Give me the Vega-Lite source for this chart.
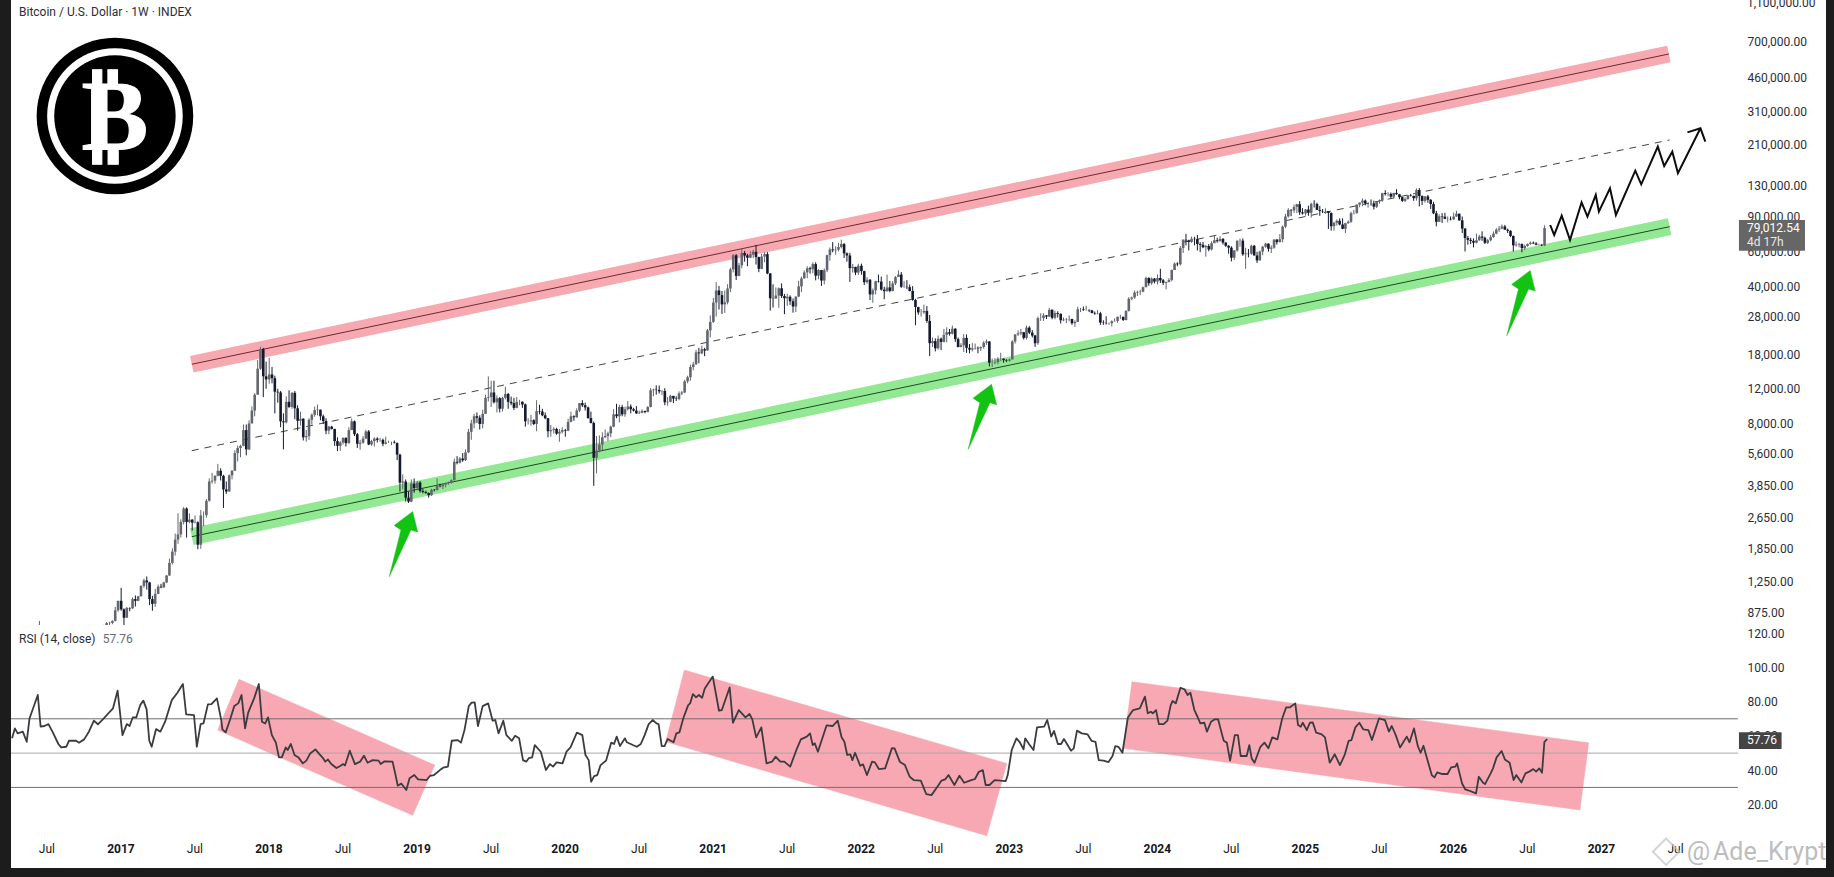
{
"$schema":"https://vega.github.io/schema/vega-lite/v6.json",
"background":"#1c1c1c",
"padding":{"left":10,"top":0,"right":9,"bottom":9},
"spacing":0,
"config":{"view":{"stroke":null,"fill":"#ffffff"},"text":{"font":"Roboto"}},
"datasets":{
"candles":[
{"t":2016.453,"o":680,"h":790,"l":650,"c":740},
{"t":2016.888,"o":735,"h":755,"l":725,"c":745},{"t":2016.907,"o":745,"h":780,"l":735,"c":770},{"t":2016.927,"o":770,"h":782,"l":752,"c":772},{"t":2016.946,"o":772,"h":795,"l":760,"c":790},{"t":2016.965,"o":790,"h":930,"l":785,"c":895},{"t":2016.984,"o":895,"h":1000,"l":880,"c":1000},
{"t":2017.005,"o":1000,"h":1165,"l":890,"c":905},{"t":2017.024,"o":905,"h":915,"l":750,"c":820},{"t":2017.043,"o":820,"h":930,"l":820,"c":920},{"t":2017.063,"o":920,"h":925,"l":885,"c":915},{"t":2017.082,"o":915,"h":1040,"l":910,"c":1020},{"t":2017.101,"o":1020,"h":1065,"l":935,"c":1000},{"t":2017.12,"o":1000,"h":1060,"l":995,"c":1055},{"t":2017.139,"o":1055,"h":1200,"l":1050,"c":1190},{"t":2017.159,"o":1190,"h":1295,"l":1165,"c":1270},{"t":2017.178,"o":1270,"h":1330,"l":1140,"c":1240},{"t":2017.197,"o":1240,"h":1250,"l":950,"c":1020},{"t":2017.216,"o":1020,"h":1060,"l":890,"c":965},{"t":2017.235,"o":965,"h":1150,"l":930,"c":1085},{"t":2017.255,"o":1085,"h":1210,"l":1080,"c":1180},{"t":2017.274,"o":1180,"h":1220,"l":1160,"c":1170},{"t":2017.293,"o":1170,"h":1250,"l":1165,"c":1240},{"t":2017.312,"o":1240,"h":1350,"l":1230,"c":1345},{"t":2017.331,"o":1345,"h":1640,"l":1340,"c":1560},{"t":2017.351,"o":1560,"h":1850,"l":1530,"c":1780},{"t":2017.37,"o":1780,"h":2200,"l":1700,"c":2050},{"t":2017.389,"o":2050,"h":2790,"l":1950,"c":2180},{"t":2017.408,"o":2180,"h":2600,"l":2100,"c":2520},{"t":2017.427,"o":2520,"h":3000,"l":2450,"c":2950},{"t":2017.447,"o":2950,"h":2990,"l":2100,"c":2520},{"t":2017.466,"o":2520,"h":2790,"l":2480,"c":2590},{"t":2017.485,"o":2590,"h":2600,"l":2280,"c":2500},{"t":2017.504,"o":2500,"h":2720,"l":2480,"c":2510},{"t":2017.523,"o":2510,"h":2540,"l":1830,"c":1930},{"t":2017.543,"o":1930,"h":2900,"l":1840,"c":2720},{"t":2017.562,"o":2720,"h":2850,"l":2400,"c":2720},{"t":2017.581,"o":2730,"h":3300,"l":2650,"c":3230},{"t":2017.6,"o":3230,"h":4200,"l":3200,"c":4050},{"t":2017.619,"o":4050,"h":4480,"l":3950,"c":4090},{"t":2017.639,"o":4090,"h":4350,"l":3950,"c":4330},{"t":2017.658,"o":4330,"h":4980,"l":4300,"c":4590},{"t":2017.677,"o":4590,"h":4730,"l":4100,"c":4330},{"t":2017.696,"o":4330,"h":4380,"l":2970,"c":3690},{"t":2017.715,"o":3690,"h":4050,"l":3500,"c":3600},{"t":2017.735,"o":3600,"h":4400,"l":3600,"c":4350},{"t":2017.754,"o":4350,"h":4620,"l":4150,"c":4600},{"t":2017.773,"o":4600,"h":5850,"l":4580,"c":5650},{"t":2017.792,"o":5650,"h":6170,"l":5120,"c":6000},{"t":2017.811,"o":6000,"h":6230,"l":5380,"c":6150},{"t":2017.831,"o":6150,"h":7900,"l":6120,"c":7400},{"t":2017.85,"o":7400,"h":7900,"l":5500,"c":5900},{"t":2017.869,"o":5900,"h":8300,"l":5850,"c":8000},{"t":2017.888,"o":8000,"h":9750,"l":8000,"c":9300},{"t":2017.907,"o":9300,"h":11400,"l":8700,"c":11200},{"t":2017.927,"o":11200,"h":16800,"l":11200,"c":15200},{"t":2017.946,"o":15200,"h":19666,"l":15000,"c":19100},{"t":2017.965,"o":19100,"h":19400,"l":10900,"c":13900},{"t":2017.984,"o":13900,"h":16500,"l":12000,"c":13400},
{"t":2018.005,"o":13400,"h":17250,"l":12750,"c":14200},{"t":2018.024,"o":14200,"h":15500,"l":12800,"c":13600},{"t":2018.043,"o":13600,"h":14000,"l":9000,"c":11600},{"t":2018.063,"o":11600,"h":12000,"l":10200,"c":11500},{"t":2018.082,"o":11500,"h":11700,"l":7650,"c":8200},{"t":2018.101,"o":8200,"h":9000,"l":5900,"c":8100},{"t":2018.12,"o":8100,"h":11000,"l":8000,"c":10300},{"t":2018.139,"o":10300,"h":11800,"l":9600,"c":9700},{"t":2018.159,"o":9700,"h":11550,"l":9500,"c":11450},{"t":2018.178,"o":11450,"h":11700,"l":8400,"c":9550},{"t":2018.197,"o":9550,"h":9900,"l":7350,"c":8250},{"t":2018.216,"o":8250,"h":9180,"l":7800,"c":8450},{"t":2018.235,"o":8450,"h":8500,"l":6550,"c":6800},{"t":2018.255,"o":6800,"h":7400,"l":6450,"c":6900},{"t":2018.274,"o":6900,"h":8500,"l":6600,"c":8350},{"t":2018.293,"o":8350,"h":9000,"l":7900,"c":8850},{"t":2018.312,"o":8850,"h":9760,"l":8650,"c":9350},{"t":2018.331,"o":9350,"h":9980,"l":8780,"c":9400},{"t":2018.351,"o":9400,"h":9400,"l":8300,"c":8700},{"t":2018.37,"o":8700,"h":8870,"l":7950,"c":8230},{"t":2018.389,"o":8230,"h":8500,"l":7050,"c":7350},{"t":2018.408,"o":7350,"h":7780,"l":7050,"c":7700},{"t":2018.427,"o":7700,"h":7780,"l":7450,"c":7500},{"t":2018.447,"o":7500,"h":7500,"l":6150,"c":6500},{"t":2018.466,"o":6500,"h":6800,"l":5780,"c":6150},{"t":2018.485,"o":6150,"h":6500,"l":5800,"c":6400},{"t":2018.504,"o":6400,"h":6800,"l":6250,"c":6750},{"t":2018.523,"o":6750,"h":6800,"l":6100,"c":6350},{"t":2018.543,"o":6350,"h":7650,"l":6300,"c":7400},{"t":2018.562,"o":7400,"h":8480,"l":7400,"c":8200},{"t":2018.581,"o":8200,"h":8280,"l":6900,"c":7050},{"t":2018.6,"o":7050,"h":7150,"l":6000,"c":6300},{"t":2018.619,"o":6300,"h":6600,"l":5880,"c":6380},{"t":2018.639,"o":6380,"h":6900,"l":6300,"c":6700},{"t":2018.658,"o":6700,"h":7420,"l":6650,"c":7280},{"t":2018.677,"o":7280,"h":7400,"l":6200,"c":6250},{"t":2018.696,"o":6250,"h":6600,"l":6150,"c":6500},{"t":2018.715,"o":6500,"h":6800,"l":6100,"c":6700},{"t":2018.735,"o":6700,"h":6800,"l":6400,"c":6600},{"t":2018.754,"o":6600,"h":6750,"l":6450,"c":6600},{"t":2018.773,"o":6600,"h":6700,"l":6120,"c":6300},{"t":2018.792,"o":6300,"h":6850,"l":6250,"c":6400},{"t":2018.811,"o":6400,"h":6530,"l":6370,"c":6400},{"t":2018.831,"o":6400,"h":6460,"l":6200,"c":6400},{"t":2018.85,"o":6400,"h":6550,"l":6330,"c":6350},{"t":2018.869,"o":6350,"h":6400,"l":5200,"c":5550},{"t":2018.888,"o":5550,"h":5600,"l":3600,"c":4000},{"t":2018.907,"o":4000,"h":4400,"l":3700,"c":4050},{"t":2018.927,"o":4050,"h":4150,"l":3200,"c":3350},{"t":2018.946,"o":3350,"h":3600,"l":3150,"c":3200},{"t":2018.965,"o":3200,"h":4150,"l":3180,"c":3950},{"t":2018.984,"o":3950,"h":4200,"l":3550,"c":3750},
{"t":2019.005,"o":3750,"h":4070,"l":3650,"c":4000},{"t":2019.024,"o":4000,"h":4070,"l":3550,"c":3620},{"t":2019.043,"o":3620,"h":3720,"l":3520,"c":3580},{"t":2019.063,"o":3580,"h":3640,"l":3500,"c":3540},{"t":2019.082,"o":3540,"h":3560,"l":3350,"c":3450},{"t":2019.101,"o":3450,"h":3720,"l":3420,"c":3680},{"t":2019.12,"o":3680,"h":3700,"l":3600,"c":3660},{"t":2019.139,"o":3660,"h":4200,"l":3650,"c":3850},{"t":2019.159,"o":3850,"h":3950,"l":3780,"c":3830},{"t":2019.178,"o":3830,"h":3970,"l":3700,"c":3900},{"t":2019.197,"o":3900,"h":4000,"l":3780,"c":3980},{"t":2019.216,"o":3980,"h":4050,"l":3900,"c":3990},{"t":2019.235,"o":3990,"h":4150,"l":3950,"c":4110},{"t":2019.255,"o":4110,"h":5300,"l":4100,"c":5100},{"t":2019.274,"o":5100,"h":5450,"l":4950,"c":5050},{"t":2019.293,"o":5050,"h":5400,"l":5000,"c":5300},{"t":2019.312,"o":5300,"h":5650,"l":5100,"c":5200},{"t":2019.331,"o":5200,"h":5900,"l":5150,"c":5700},{"t":2019.351,"o":5700,"h":7500,"l":5650,"c":7250},{"t":2019.37,"o":7250,"h":8350,"l":6600,"c":8000},{"t":2019.389,"o":8000,"h":8950,"l":7550,"c":8700},{"t":2019.408,"o":8700,"h":9100,"l":8050,"c":8550},{"t":2019.427,"o":8550,"h":8800,"l":7450,"c":7950},{"t":2019.447,"o":7950,"h":9400,"l":7550,"c":8950},{"t":2019.466,"o":8950,"h":11200,"l":8950,"c":10800},{"t":2019.485,"o":10800,"h":13880,"l":10350,"c":10900},{"t":2019.504,"o":10900,"h":13200,"l":9700,"c":11500},{"t":2019.523,"o":11500,"h":13200,"l":10100,"c":10250},{"t":2019.543,"o":10250,"h":11100,"l":9100,"c":10750},{"t":2019.562,"o":10750,"h":10900,"l":9100,"c":9500},{"t":2019.581,"o":9500,"h":10950,"l":9200,"c":10800},{"t":2019.6,"o":10800,"h":12300,"l":10600,"c":11300},{"t":2019.619,"o":11300,"h":11450,"l":9500,"c":10300},{"t":2019.639,"o":10300,"h":10950,"l":9900,"c":10150},{"t":2019.658,"o":10150,"h":10800,"l":9350,"c":9600},{"t":2019.677,"o":9600,"h":10900,"l":9550,"c":10300},{"t":2019.696,"o":10300,"h":10550,"l":9900,"c":10300},{"t":2019.715,"o":10300,"h":10350,"l":9600,"c":10000},{"t":2019.735,"o":10000,"h":10100,"l":7700,"c":8200},{"t":2019.754,"o":8200,"h":8500,"l":7900,"c":8200},{"t":2019.773,"o":8200,"h":8850,"l":7800,"c":8300},{"t":2019.792,"o":8300,"h":8400,"l":7850,"c":7950},{"t":2019.811,"o":7950,"h":10500,"l":7300,"c":9250},{"t":2019.831,"o":9250,"h":9950,"l":8900,"c":9200},{"t":2019.85,"o":9200,"h":9500,"l":8700,"c":8800},{"t":2019.869,"o":8800,"h":9100,"l":8400,"c":8500},{"t":2019.888,"o":8500,"h":8500,"l":6800,"c":7300},{"t":2019.907,"o":7300,"h":7850,"l":6850,"c":7400},{"t":2019.927,"o":7400,"h":7650,"l":7100,"c":7500},{"t":2019.946,"o":7500,"h":7600,"l":7000,"c":7100},{"t":2019.965,"o":7100,"h":7500,"l":6450,"c":7250},{"t":2019.984,"o":7250,"h":7650,"l":7100,"c":7400},
{"t":2020.005,"o":7400,"h":7500,"l":6850,"c":7350},{"t":2020.024,"o":7350,"h":8450,"l":7300,"c":8150},{"t":2020.043,"o":8150,"h":9190,"l":8100,"c":8700},{"t":2020.063,"o":8700,"h":8800,"l":8250,"c":8600},{"t":2020.082,"o":8600,"h":9550,"l":8550,"c":9300},{"t":2020.101,"o":9300,"h":10150,"l":9150,"c":10150},{"t":2020.12,"o":10150,"h":10500,"l":9700,"c":9900},{"t":2020.139,"o":9900,"h":10200,"l":9300,"c":9650},{"t":2020.159,"o":9650,"h":9750,"l":8450,"c":8520},{"t":2020.178,"o":8520,"h":9190,"l":8000,"c":8040},{"t":2020.197,"o":8040,"h":8180,"l":3850,"c":5350},{"t":2020.216,"o":5350,"h":6900,"l":4450,"c":5830},{"t":2020.235,"o":5830,"h":6950,"l":5700,"c":6250},{"t":2020.255,"o":6250,"h":7200,"l":5850,"c":6800},{"t":2020.274,"o":6800,"h":7450,"l":6750,"c":6900},{"t":2020.293,"o":6900,"h":7250,"l":6500,"c":7120},{"t":2020.312,"o":7120,"h":7800,"l":6800,"c":7700},{"t":2020.331,"o":7700,"h":9450,"l":7650,"c":8900},{"t":2020.351,"o":8900,"h":10070,"l":8500,"c":8700},{"t":2020.37,"o":8700,"h":9950,"l":8100,"c":9700},{"t":2020.389,"o":9700,"h":9950,"l":8700,"c":8900},{"t":2020.408,"o":8900,"h":9750,"l":8650,"c":9450},{"t":2020.427,"o":9450,"h":10400,"l":9300,"c":9750},{"t":2020.447,"o":9750,"h":10000,"l":9000,"c":9450},{"t":2020.466,"o":9450,"h":9600,"l":9200,"c":9300},{"t":2020.485,"o":9300,"h":9800,"l":8950,"c":9000},{"t":2020.504,"o":9000,"h":9300,"l":8950,"c":9070},{"t":2020.523,"o":9070,"h":9450,"l":9000,"c":9250},{"t":2020.543,"o":9250,"h":9300,"l":9000,"c":9150},{"t":2020.562,"o":9150,"h":9800,"l":9100,"c":9700},{"t":2020.581,"o":9700,"h":12100,"l":9650,"c":11800},{"t":2020.6,"o":11800,"h":12000,"l":11000,"c":11900},{"t":2020.619,"o":11900,"h":12500,"l":11200,"c":11850},{"t":2020.639,"o":11850,"h":12480,"l":11350,"c":11650},{"t":2020.658,"o":11650,"h":11800,"l":11150,"c":11700},{"t":2020.677,"o":11700,"h":12100,"l":9900,"c":10250},{"t":2020.696,"o":10250,"h":10900,"l":9850,"c":10300},{"t":2020.715,"o":10300,"h":11200,"l":10250,"c":11050},{"t":2020.735,"o":11050,"h":11050,"l":10150,"c":10700},{"t":2020.754,"o":10700,"h":11000,"l":10400,"c":10650},{"t":2020.773,"o":10650,"h":11650,"l":10500,"c":11370},{"t":2020.792,"o":11370,"h":11700,"l":11150,"c":11500},{"t":2020.811,"o":11500,"h":13350,"l":11400,"c":13100},{"t":2020.831,"o":13100,"h":14000,"l":12800,"c":13750},{"t":2020.85,"o":13750,"h":15950,"l":13200,"c":15500},{"t":2020.869,"o":15500,"h":16500,"l":14900,"c":16000},{"t":2020.888,"o":16000,"h":18950,"l":15900,"c":18400},{"t":2020.907,"o":18400,"h":19400,"l":16200,"c":18200},{"t":2020.927,"o":18200,"h":19900,"l":18000,"c":19100},{"t":2020.946,"o":19100,"h":19400,"l":17600,"c":18800},{"t":2020.965,"o":18800,"h":24200,"l":18800,"c":23800},{"t":2020.984,"o":23800,"h":28400,"l":21900,"c":26300},
{"t":2021.005,"o":26300,"h":34800,"l":26000,"c":33000},{"t":2021.024,"o":33000,"h":41900,"l":28000,"c":38000},{"t":2021.043,"o":38000,"h":40100,"l":30400,"c":36000},{"t":2021.063,"o":36000,"h":37800,"l":28900,"c":32300},{"t":2021.082,"o":32300,"h":38000,"l":29200,"c":33100},{"t":2021.101,"o":33100,"h":40900,"l":32300,"c":38900},{"t":2021.12,"o":38900,"h":49700,"l":37300,"c":48700},{"t":2021.139,"o":48700,"h":58300,"l":47000,"c":57400},{"t":2021.159,"o":57400,"h":58300,"l":43000,"c":45100},{"t":2021.178,"o":45100,"h":52600,"l":44900,"c":51100},{"t":2021.197,"o":51100,"h":61800,"l":49300,"c":59000},{"t":2021.216,"o":59000,"h":60500,"l":53300,"c":57300},{"t":2021.235,"o":57300,"h":58400,"l":50500,"c":55800},{"t":2021.255,"o":55800,"h":60200,"l":55500,"c":58000},{"t":2021.274,"o":58000,"h":61300,"l":55500,"c":59800},{"t":2021.293,"o":59800,"h":64900,"l":51500,"c":56200},{"t":2021.312,"o":56200,"h":56500,"l":47100,"c":49000},{"t":2021.331,"o":49000,"h":58400,"l":48800,"c":56600},{"t":2021.351,"o":56600,"h":59500,"l":52900,"c":58200},{"t":2021.37,"o":58200,"h":59600,"l":46000,"c":46400},{"t":2021.389,"o":46400,"h":46600,"l":30000,"c":34700},{"t":2021.408,"o":34700,"h":40900,"l":31100,"c":34600},{"t":2021.427,"o":34600,"h":39400,"l":34500,"c":35800},{"t":2021.447,"o":35800,"h":39400,"l":31000,"c":39000},{"t":2021.466,"o":39000,"h":41300,"l":34800,"c":35600},{"t":2021.485,"o":35600,"h":36500,"l":28800,"c":34700},{"t":2021.504,"o":34700,"h":36600,"l":31700,"c":35300},{"t":2021.523,"o":35300,"h":35900,"l":32100,"c":33500},{"t":2021.543,"o":33500,"h":34600,"l":29300,"c":31500},{"t":2021.562,"o":31500,"h":35400,"l":29500,"c":35400},{"t":2021.581,"o":35400,"h":42600,"l":35200,"c":39900},{"t":2021.6,"o":39900,"h":44700,"l":37300,"c":43800},{"t":2021.619,"o":43800,"h":48100,"l":43700,"c":47000},{"t":2021.639,"o":47000,"h":50500,"l":43900,"c":49300},{"t":2021.658,"o":49300,"h":50200,"l":46300,"c":48800},{"t":2021.677,"o":48800,"h":52900,"l":46500,"c":51800},{"t":2021.696,"o":51800,"h":52900,"l":42800,"c":45200},{"t":2021.715,"o":45200,"h":48800,"l":43400,"c":48300},{"t":2021.735,"o":48300,"h":48400,"l":40100,"c":42700},{"t":2021.754,"o":42700,"h":49200,"l":40800,"c":48200},{"t":2021.773,"o":48200,"h":57800,"l":47100,"c":57500},{"t":2021.792,"o":57500,"h":62900,"l":53900,"c":61500},{"t":2021.811,"o":61500,"h":67000,"l":59500,"c":60900},{"t":2021.831,"o":60900,"h":63800,"l":57800,"c":61300},{"t":2021.85,"o":61300,"h":66400,"l":60100,"c":63300},{"t":2021.869,"o":63300,"h":69000,"l":62300,"c":65500},{"t":2021.888,"o":65500,"h":66300,"l":55600,"c":58700},{"t":2021.907,"o":58700,"h":59400,"l":53300,"c":57300},{"t":2021.927,"o":57300,"h":59100,"l":42000,"c":49400},{"t":2021.946,"o":49400,"h":51900,"l":46900,"c":50100},{"t":2021.965,"o":50100,"h":50200,"l":45500,"c":46900},{"t":2021.984,"o":46900,"h":52000,"l":45600,"c":50800},
{"t":2022.005,"o":50800,"h":52100,"l":45700,"c":47700},{"t":2022.024,"o":47700,"h":47900,"l":40500,"c":41900},{"t":2022.043,"o":41900,"h":44400,"l":41200,"c":43100},{"t":2022.063,"o":43100,"h":43500,"l":34000,"c":36300},{"t":2022.082,"o":36300,"h":38900,"l":32900,"c":38100},{"t":2022.101,"o":38100,"h":42600,"l":36300,"c":42400},{"t":2022.12,"o":42400,"h":45800,"l":41700,"c":42200},{"t":2022.139,"o":42200,"h":44700,"l":38000,"c":38400},{"t":2022.159,"o":38400,"h":39700,"l":34300,"c":37700},{"t":2022.178,"o":37700,"h":45800,"l":37500,"c":39400},{"t":2022.197,"o":39400,"h":42500,"l":37200,"c":37800},{"t":2022.216,"o":37800,"h":42400,"l":37600,"c":41300},{"t":2022.235,"o":41300,"h":45000,"l":40500,"c":44500},{"t":2022.255,"o":44500,"h":48100,"l":44500,"c":45800},{"t":2022.274,"o":45800,"h":47200,"l":39200,"c":39700},{"t":2022.293,"o":39700,"h":42400,"l":39200,"c":39700},{"t":2022.312,"o":39700,"h":42900,"l":38600,"c":39500},{"t":2022.331,"o":39500,"h":40800,"l":37600,"c":37800},{"t":2022.351,"o":37800,"h":40000,"l":33700,"c":34000},{"t":2022.37,"o":34000,"h":34500,"l":25300,"c":31300},{"t":2022.389,"o":31300,"h":31400,"l":28600,"c":29400},{"t":2022.408,"o":29400,"h":30600,"l":28000,"c":29400},{"t":2022.427,"o":29400,"h":32200,"l":28900,"c":29900},{"t":2022.447,"o":29900,"h":31700,"l":26000,"c":26600},{"t":2022.466,"o":26600,"h":28500,"l":17600,"c":20500},{"t":2022.485,"o":20500,"h":21900,"l":19600,"c":21000},{"t":2022.504,"o":21000,"h":21700,"l":18600,"c":19300},{"t":2022.523,"o":19300,"h":22400,"l":19000,"c":21600},{"t":2022.543,"o":21600,"h":21900,"l":18900,"c":20800},{"t":2022.562,"o":20800,"h":24200,"l":20700,"c":22600},{"t":2022.581,"o":22600,"h":24700,"l":20700,"c":23300},{"t":2022.6,"o":23300,"h":24200,"l":22400,"c":22900},{"t":2022.619,"o":22900,"h":25200,"l":22700,"c":24300},{"t":2022.639,"o":24300,"h":24400,"l":20800,"c":21500},{"t":2022.658,"o":21500,"h":21900,"l":19500,"c":19600},{"t":2022.677,"o":19600,"h":20500,"l":19500,"c":20000},{"t":2022.696,"o":20000,"h":22800,"l":18500,"c":21800},{"t":2022.715,"o":21800,"h":22700,"l":18300,"c":19400},{"t":2022.735,"o":19400,"h":20300,"l":18200,"c":19000},{"t":2022.754,"o":19000,"h":20500,"l":18600,"c":19300},{"t":2022.773,"o":19300,"h":20400,"l":19000,"c":19400},{"t":2022.792,"o":19400,"h":19700,"l":18200,"c":19300},{"t":2022.811,"o":19300,"h":19700,"l":18700,"c":19600},{"t":2022.831,"o":19600,"h":21000,"l":19200,"c":20600},{"t":2022.85,"o":20600,"h":21400,"l":20100,"c":20900},{"t":2022.869,"o":20900,"h":21000,"l":15600,"c":16300},{"t":2022.888,"o":16300,"h":17100,"l":15500,"c":16300},{"t":2022.907,"o":16300,"h":17200,"l":16000,"c":16400},{"t":2022.927,"o":16400,"h":17400,"l":16000,"c":17100},{"t":2022.946,"o":17100,"h":18300,"l":16600,"c":17100},{"t":2022.965,"o":17100,"h":17100,"l":16300,"c":16800},{"t":2022.984,"o":16800,"h":17000,"l":16400,"c":16700},
{"t":2023.005,"o":16700,"h":17100,"l":16500,"c":16950},{"t":2023.024,"o":16950,"h":21200,"l":16900,"c":20900},{"t":2023.043,"o":20900,"h":22800,"l":20400,"c":22700},{"t":2023.063,"o":22700,"h":23800,"l":22300,"c":23000},{"t":2023.082,"o":23000,"h":24200,"l":22500,"c":23300},{"t":2023.101,"o":23300,"h":23400,"l":21400,"c":21800},{"t":2023.12,"o":21800,"h":25200,"l":21400,"c":24600},{"t":2023.139,"o":24600,"h":25000,"l":22800,"c":23200},{"t":2023.159,"o":23200,"h":23900,"l":21900,"c":22400},{"t":2023.178,"o":22400,"h":22600,"l":19600,"c":20500},{"t":2023.197,"o":20500,"h":28000,"l":20100,"c":27500},{"t":2023.216,"o":27500,"h":29100,"l":26600,"c":27500},{"t":2023.235,"o":27500,"h":29100,"l":26600,"c":28400},{"t":2023.255,"o":28400,"h":28500,"l":27200,"c":28000},{"t":2023.274,"o":28000,"h":31000,"l":27900,"c":30300},{"t":2023.293,"o":30300,"h":30500,"l":27100,"c":27600},{"t":2023.312,"o":27600,"h":30000,"l":27100,"c":29200},{"t":2023.331,"o":29200,"h":29800,"l":27700,"c":28900},{"t":2023.351,"o":28900,"h":29100,"l":25800,"c":26800},{"t":2023.37,"o":26800,"h":27700,"l":26500,"c":27000},{"t":2023.389,"o":27000,"h":27500,"l":25900,"c":27100},{"t":2023.408,"o":27100,"h":28400,"l":26500,"c":27200},{"t":2023.427,"o":27200,"h":27300,"l":25400,"c":25900},{"t":2023.447,"o":25900,"h":26800,"l":24800,"c":26300},{"t":2023.466,"o":26300,"h":31400,"l":26300,"c":30500},{"t":2023.485,"o":30500,"h":31000,"l":29500,"c":30500},{"t":2023.504,"o":30500,"h":31500,"l":29900,"c":30300},{"t":2023.523,"o":30300,"h":31800,"l":30000,"c":30300},{"t":2023.543,"o":30300,"h":30400,"l":29500,"c":30100},{"t":2023.562,"o":30100,"h":30300,"l":29100,"c":29200},{"t":2023.581,"o":29200,"h":29700,"l":28600,"c":29000},{"t":2023.6,"o":29000,"h":30200,"l":28700,"c":29100},{"t":2023.619,"o":29100,"h":29600,"l":25400,"c":26100},{"t":2023.639,"o":26100,"h":26800,"l":25400,"c":26000},{"t":2023.658,"o":26000,"h":28100,"l":25500,"c":25900},{"t":2023.677,"o":25900,"h":26100,"l":25400,"c":25900},{"t":2023.696,"o":25900,"h":26800,"l":24900,"c":26500},{"t":2023.715,"o":26500,"h":27400,"l":26400,"c":26600},{"t":2023.735,"o":26600,"h":28000,"l":26000,"c":27900},{"t":2023.754,"o":27900,"h":28600,"l":27200,"c":27900},{"t":2023.773,"o":27900,"h":28000,"l":26600,"c":26900},{"t":2023.792,"o":26900,"h":30200,"l":26800,"c":29900},{"t":2023.811,"o":29900,"h":35200,"l":29700,"c":34500},{"t":2023.831,"o":34500,"h":35400,"l":33900,"c":35000},{"t":2023.85,"o":35000,"h":38000,"l":34500,"c":37100},{"t":2023.869,"o":37100,"h":37900,"l":35600,"c":37400},{"t":2023.888,"o":37400,"h":38400,"l":36000,"c":37500},{"t":2023.907,"o":37500,"h":39800,"l":37200,"c":39500},{"t":2023.927,"o":39500,"h":44700,"l":39500,"c":44000},{"t":2023.946,"o":44000,"h":44400,"l":40200,"c":41400},{"t":2023.965,"o":41400,"h":44300,"l":40600,"c":43700},{"t":2023.984,"o":43700,"h":44000,"l":41300,"c":42200},
{"t":2024.005,"o":42200,"h":45900,"l":40800,"c":44000},{"t":2024.024,"o":44000,"h":49000,"l":41500,"c":42800},{"t":2024.043,"o":42800,"h":43500,"l":40500,"c":41600},{"t":2024.063,"o":41600,"h":42200,"l":38500,"c":42000},{"t":2024.082,"o":42000,"h":43900,"l":41800,"c":43000},{"t":2024.101,"o":43000,"h":48600,"l":42300,"c":48300},{"t":2024.12,"o":48300,"h":52800,"l":48300,"c":52100},{"t":2024.139,"o":52100,"h":52900,"l":50500,"c":51700},{"t":2024.159,"o":51700,"h":64000,"l":50900,"c":62500},{"t":2024.178,"o":62500,"h":69200,"l":59000,"c":68900},{"t":2024.197,"o":68900,"h":73800,"l":64500,"c":68300},{"t":2024.216,"o":68300,"h":68900,"l":60800,"c":67200},{"t":2024.235,"o":67200,"h":71500,"l":66400,"c":69700},{"t":2024.255,"o":69700,"h":71300,"l":64500,"c":69400},{"t":2024.274,"o":69400,"h":72800,"l":60700,"c":65600},{"t":2024.293,"o":65600,"h":66900,"l":59600,"c":64900},{"t":2024.312,"o":64900,"h":67200,"l":62400,"c":63100},{"t":2024.331,"o":63100,"h":64800,"l":56500,"c":64000},{"t":2024.351,"o":64000,"h":65500,"l":60200,"c":61500},{"t":2024.37,"o":61500,"h":67700,"l":60700,"c":66200},{"t":2024.389,"o":66200,"h":71900,"l":66100,"c":68500},{"t":2024.408,"o":68500,"h":70600,"l":66600,"c":67700},{"t":2024.427,"o":67700,"h":71900,"l":67500,"c":69600},{"t":2024.447,"o":69600,"h":70200,"l":65100,"c":66600},{"t":2024.466,"o":66600,"h":67000,"l":63400,"c":64200},{"t":2024.485,"o":64200,"h":64700,"l":58500,"c":62800},{"t":2024.504,"o":62800,"h":63800,"l":53500,"c":55800},{"t":2024.523,"o":55800,"h":60900,"l":54300,"c":60800},{"t":2024.543,"o":60800,"h":68400,"l":59900,"c":68100},{"t":2024.562,"o":68100,"h":69900,"l":63500,"c":68200},{"t":2024.581,"o":68200,"h":70000,"l":57100,"c":58100},{"t":2024.6,"o":58100,"h":62700,"l":49000,"c":58700},{"t":2024.619,"o":58700,"h":61800,"l":56100,"c":58500},{"t":2024.639,"o":58500,"h":65000,"l":57800,"c":64200},{"t":2024.658,"o":64200,"h":64900,"l":57200,"c":57300},{"t":2024.677,"o":57300,"h":59800,"l":52500,"c":54100},{"t":2024.696,"o":54100,"h":60700,"l":54000,"c":60000},{"t":2024.715,"o":60000,"h":64100,"l":57500,"c":63500},{"t":2024.735,"o":63500,"h":66500,"l":62700,"c":65800},{"t":2024.754,"o":65800,"h":66000,"l":59900,"c":62000},{"t":2024.773,"o":62000,"h":64500,"l":58900,"c":62800},{"t":2024.792,"o":62800,"h":69400,"l":62000,"c":69000},{"t":2024.811,"o":69000,"h":69500,"l":65100,"c":67000},{"t":2024.831,"o":67000,"h":73600,"l":66800,"c":69300},{"t":2024.85,"o":69300,"h":81500,"l":66800,"c":80400},{"t":2024.869,"o":80400,"h":93500,"l":78900,"c":90600},{"t":2024.888,"o":90600,"h":99800,"l":89400,"c":97700},{"t":2024.907,"o":97700,"h":98700,"l":90800,"c":97200},{"t":2024.927,"o":97200,"h":104000,"l":94500,"c":101200},{"t":2024.946,"o":101200,"h":105000,"l":94200,"c":104500},{"t":2024.965,"o":104500,"h":108300,"l":92200,"c":95000},{"t":2024.984,"o":95000,"h":99800,"l":92500,"c":93700},
{"t":2025.005,"o":93700,"h":98800,"l":91300,"c":98200},{"t":2025.024,"o":98200,"h":102700,"l":91200,"c":94500},{"t":2025.043,"o":94500,"h":106300,"l":89300,"c":105000},{"t":2025.063,"o":105000,"h":109500,"l":100500,"c":104800},{"t":2025.082,"o":104800,"h":106400,"l":97700,"c":97700},{"t":2025.101,"o":97700,"h":102500,"l":91200,"c":96500},{"t":2025.12,"o":96500,"h":98800,"l":94100,"c":96100},{"t":2025.139,"o":96100,"h":99500,"l":93300,"c":96300},{"t":2025.159,"o":96300,"h":96500,"l":78200,"c":94300},{"t":2025.178,"o":94300,"h":95000,"l":76600,"c":80700},{"t":2025.197,"o":80700,"h":85000,"l":76500,"c":84000},{"t":2025.216,"o":84000,"h":87500,"l":81300,"c":86000},{"t":2025.235,"o":86000,"h":88500,"l":81600,"c":82400},{"t":2025.255,"o":82400,"h":88500,"l":78000,"c":78300},{"t":2025.274,"o":78300,"h":84000,"l":74500,"c":83700},{"t":2025.293,"o":83700,"h":86500,"l":83000,"c":85000},{"t":2025.312,"o":85000,"h":95800,"l":84000,"c":94000},{"t":2025.331,"o":94000,"h":97900,"l":92800,"c":94300},{"t":2025.351,"o":94300,"h":104300,"l":93400,"c":104000},{"t":2025.37,"o":104000,"h":106700,"l":100800,"c":106500},{"t":2025.389,"o":106500,"h":111900,"l":102000,"c":109000},{"t":2025.408,"o":109000,"h":110400,"l":103100,"c":105700},{"t":2025.427,"o":105700,"h":106800,"l":100400,"c":105700},{"t":2025.447,"o":105700,"h":110500,"l":102700,"c":105600},{"t":2025.466,"o":105600,"h":108900,"l":98200,"c":101500},{"t":2025.485,"o":101500,"h":108500,"l":100000,"c":108300},{"t":2025.504,"o":108300,"h":110500,"l":105100,"c":109000},{"t":2025.523,"o":109000,"h":119500,"l":107500,"c":119000},{"t":2025.543,"o":119000,"h":123200,"l":115700,"c":117700},{"t":2025.562,"o":117700,"h":120200,"l":114700,"c":117900},{"t":2025.581,"o":117900,"h":119800,"l":111900,"c":114200},{"t":2025.6,"o":114200,"h":119300,"l":112000,"c":119300},{"t":2025.619,"o":119300,"h":124500,"l":116800,"c":117500},{"t":2025.639,"o":117500,"h":117600,"l":110800,"c":113500},{"t":2025.658,"o":113500,"h":113800,"l":107300,"c":108700},{"t":2025.677,"o":108700,"h":113400,"l":107300,"c":111100},{"t":2025.696,"o":111100,"h":116500,"l":110200,"c":116000},{"t":2025.715,"o":116000,"h":117900,"l":114300,"c":115300},{"t":2025.735,"o":115300,"h":115400,"l":108700,"c":112100},{"t":2025.754,"o":112100,"h":125700,"l":109000,"c":123500},{"t":2025.773,"o":123500,"h":126400,"l":102000,"c":115000},{"t":2025.792,"o":115000,"h":116000,"l":103500,"c":108600},{"t":2025.811,"o":108600,"h":114900,"l":106400,"c":114500},{"t":2025.831,"o":114500,"h":116400,"l":106300,"c":110000},{"t":2025.85,"o":110000,"h":111000,"l":98900,"c":104700},{"t":2025.869,"o":104700,"h":107500,"l":93000,"c":94000},{"t":2025.888,"o":94000,"h":96600,"l":80600,"c":85000},{"t":2025.907,"o":85000,"h":93000,"l":85000,"c":90800},{"t":2025.927,"o":90800,"h":94200,"l":83900,"c":90300},{"t":2025.946,"o":90300,"h":94500,"l":87700,"c":88000},{"t":2025.965,"o":88000,"h":90500,"l":84500,"c":88000},{"t":2025.984,"o":88000,"h":90500,"l":86500,"c":87500},
{"t":2026.005,"o":87500,"h":94700,"l":87000,"c":90500},{"t":2026.024,"o":90500,"h":96800,"l":90000,"c":93500},{"t":2026.043,"o":93500,"h":93500,"l":86000,"c":86500},{"t":2026.063,"o":86500,"h":90500,"l":74500,"c":78500},{"t":2026.082,"o":78500,"h":79000,"l":60000,"c":70300},{"t":2026.101,"o":70300,"h":72000,"l":65000,"c":68800},{"t":2026.12,"o":68800,"h":70500,"l":65500,"c":68000},{"t":2026.139,"o":68000,"h":70000,"l":63000,"c":66500},{"t":2026.159,"o":66500,"h":74000,"l":66000,"c":68500},{"t":2026.178,"o":68500,"h":73000,"l":68000,"c":71500},{"t":2026.197,"o":71500,"h":76000,"l":68000,"c":70500},{"t":2026.216,"o":70500,"h":71500,"l":65500,"c":66500},{"t":2026.235,"o":66500,"h":69500,"l":65500,"c":68500},{"t":2026.255,"o":68500,"h":73000,"l":67500,"c":71000},{"t":2026.274,"o":71000,"h":76000,"l":70500,"c":74000},{"t":2026.293,"o":74000,"h":79000,"l":73500,"c":77500},{"t":2026.312,"o":77500,"h":81000,"l":75500,"c":78500},{"t":2026.331,"o":78500,"h":82500,"l":78000,"c":80500},{"t":2026.351,"o":80500,"h":82000,"l":77500,"c":77500},{"t":2026.37,"o":77500,"h":78500,"l":74500,"c":76500},{"t":2026.389,"o":76500,"h":77000,"l":71000,"c":72000},{"t":2026.408,"o":72000,"h":72500,"l":60000,"c":64500},{"t":2026.427,"o":64500,"h":67500,"l":63500,"c":65000},{"t":2026.447,"o":65000,"h":66500,"l":63000,"c":65500},{"t":2026.466,"o":65500,"h":66000,"l":59500,"c":62500},{"t":2026.485,"o":62500,"h":65000,"l":61000,"c":64000},{"t":2026.504,"o":64000,"h":66000,"l":63500,"c":65500},{"t":2026.523,"o":65500,"h":67500,"l":65000,"c":66500},{"t":2026.543,"o":66500,"h":67500,"l":65500,"c":66000},{"t":2026.562,"o":66000,"h":67000,"l":64500,"c":65000},{"t":2026.581,"o":65000,"h":65800,"l":64500,"c":65000},{"t":2026.6,"o":65000,"h":65500,"l":64000,"c":64500},{"t":2026.619,"o":64500,"h":81500,"l":64000,"c":79012}
],
"rsi":[
{"t":2016.268,"r":58.6},{"t":2016.287,"r":64.4},{"t":2016.306,"r":61.5},{"t":2016.341,"r":62.5},{"t":2016.367,"r":56.6},{"t":2016.386,"r":70.2},{"t":2016.442,"r":83.9},{"t":2016.461,"r":65.4},{"t":2016.487,"r":65.8},{"t":2016.514,"r":66.9},{"t":2016.541,"r":62.5},{"t":2016.581,"r":55.3},{"t":2016.6,"r":53.3},{"t":2016.634,"r":53.7},{"t":2016.653,"r":57.2},{"t":2016.701,"r":57.2},{"t":2016.72,"r":56.1},{"t":2016.755,"r":58},{"t":2016.787,"r":62.5},{"t":2016.821,"r":68.9},{"t":2016.848,"r":66.8},{"t":2016.888,"r":70.2},{"t":2016.928,"r":74.1},{"t":2016.95,"r":76.1},{"t":2016.981,"r":86.4},{"t":2017.014,"r":60.5},{"t":2017.043,"r":66.9},{"t":2017.062,"r":65.8},{"t":2017.083,"r":70.8},{"t":2017.107,"r":70.8},{"t":2017.134,"r":78},{"t":2017.155,"r":80.6},{"t":2017.177,"r":75.5},{"t":2017.195,"r":57.2},{"t":2017.211,"r":53.7},{"t":2017.241,"r":64},{"t":2017.27,"r":62.5},{"t":2017.302,"r":68.3},{"t":2017.347,"r":80.9},{"t":2017.385,"r":85.2},{"t":2017.422,"r":90.3},{"t":2017.444,"r":72.6},{"t":2017.497,"r":72.2},{"t":2017.516,"r":53.7},{"t":2017.542,"r":66.9},{"t":2017.561,"r":67.3},{"t":2017.591,"r":78.4},{"t":2017.615,"r":78.6},{"t":2017.652,"r":81.9},{"t":2017.681,"r":69.3},{"t":2017.689,"r":63.8},{"t":2017.711,"r":62.1},{"t":2017.743,"r":70.2},{"t":2017.769,"r":77.4},{"t":2017.796,"r":79},{"t":2017.818,"r":83.9},{"t":2017.842,"r":64.4},{"t":2017.863,"r":73.6},{"t":2017.903,"r":81.9},{"t":2017.935,"r":90.3},{"t":2017.956,"r":68.3},{"t":2017.978,"r":67.3},{"t":2017.997,"r":70.8},{"t":2018.023,"r":60.5},{"t":2018.05,"r":56.1},{"t":2018.071,"r":47.5},{"t":2018.09,"r":47.5},{"t":2018.117,"r":53.3},{"t":2018.13,"r":51.8},{"t":2018.151,"r":55.3},{"t":2018.176,"r":48.9},{"t":2018.202,"r":47.5},{"t":2018.232,"r":44},{"t":2018.256,"r":45.6},{"t":2018.282,"r":49.8},{"t":2018.317,"r":52.2},{"t":2018.344,"r":49.4},{"t":2018.37,"r":46.9},{"t":2018.384,"r":45},{"t":2018.402,"r":46.3},{"t":2018.424,"r":43.6},{"t":2018.459,"r":41.3},{"t":2018.485,"r":42.5},{"t":2018.504,"r":43.6},{"t":2018.517,"r":42.8},{"t":2018.549,"r":51.4},{"t":2018.584,"r":43.6},{"t":2018.619,"r":45},{"t":2018.645,"r":48.5},{"t":2018.669,"r":44.4},{"t":2018.704,"r":45.9},{"t":2018.744,"r":45.6},{"t":2018.758,"r":43.6},{"t":2018.784,"r":45.2},{"t":2018.838,"r":45},{"t":2018.856,"r":38.2},{"t":2018.873,"r":31},{"t":2018.897,"r":32.3},{"t":2018.931,"r":28.5},{"t":2018.953,"r":35.3},{"t":2018.985,"r":37.2},{"t":2019.011,"r":34.7},{"t":2019.068,"r":34.3},{"t":2019.092,"r":36.8},{"t":2019.118,"r":37.2},{"t":2019.158,"r":40.1},{"t":2019.18,"r":41.5},{"t":2019.212,"r":42.1},{"t":2019.238,"r":57.2},{"t":2019.279,"r":57.6},{"t":2019.3,"r":56.1},{"t":2019.324,"r":63.4},{"t":2019.353,"r":77.4},{"t":2019.372,"r":79.4},{"t":2019.393,"r":79.6},{"t":2019.415,"r":65.8},{"t":2019.447,"r":77.4},{"t":2019.484,"r":79},{"t":2019.514,"r":68.9},{"t":2019.532,"r":69.3},{"t":2019.554,"r":61.5},{"t":2019.586,"r":68.9},{"t":2019.607,"r":60.5},{"t":2019.644,"r":57.2},{"t":2019.666,"r":60.1},{"t":2019.693,"r":58.6},{"t":2019.719,"r":45.9},{"t":2019.741,"r":45},{"t":2019.759,"r":47.1},{"t":2019.781,"r":47.5},{"t":2019.799,"r":54.7},{"t":2019.839,"r":50.8},{"t":2019.874,"r":40.1},{"t":2019.901,"r":43.6},{"t":2019.922,"r":42.1},{"t":2019.946,"r":44.6},{"t":2019.986,"r":44},{"t":2020.013,"r":50.8},{"t":2020.04,"r":53.3},{"t":2020.083,"r":61.9},{"t":2020.12,"r":60.5},{"t":2020.141,"r":48.9},{"t":2020.163,"r":45.9},{"t":2020.179,"r":33.3},{"t":2020.2,"r":36.6},{"t":2020.221,"r":37.2},{"t":2020.243,"r":43},{"t":2020.28,"r":45.6},{"t":2020.315,"r":56.1},{"t":2020.334,"r":55.3},{"t":2020.352,"r":59.6},{"t":2020.374,"r":54.1},{"t":2020.408,"r":58.6},{"t":2020.421,"r":56.3},{"t":2020.461,"r":54.7},{"t":2020.488,"r":53.7},{"t":2020.515,"r":55.3},{"t":2020.541,"r":60.5},{"t":2020.568,"r":66.9},{"t":2020.595,"r":69.3},{"t":2020.621,"r":67.3},{"t":2020.635,"r":66.9},{"t":2020.656,"r":54.1},{"t":2020.675,"r":54.1},{"t":2020.696,"r":58.2},{"t":2020.736,"r":56.3},{"t":2020.755,"r":61.5},{"t":2020.776,"r":62.1},{"t":2020.803,"r":70.6},{"t":2020.835,"r":78},{"t":2020.848,"r":79},{"t":2020.867,"r":84.4},{"t":2020.888,"r":82.5},{"t":2020.907,"r":83.9},{"t":2020.929,"r":82.3},{"t":2020.947,"r":87.7},{"t":2021.001,"r":94.6},{"t":2021.043,"r":74.7},{"t":2021.062,"r":75.1},{"t":2021.115,"r":88.3},{"t":2021.137,"r":67.7},{"t":2021.177,"r":75.1},{"t":2021.222,"r":70.8},{"t":2021.249,"r":72.8},{"t":2021.268,"r":69.7},{"t":2021.294,"r":59.2},{"t":2021.329,"r":65},{"t":2021.364,"r":44},{"t":2021.401,"r":45},{"t":2021.425,"r":47.9},{"t":2021.457,"r":45},{"t":2021.484,"r":45},{"t":2021.524,"r":42.1},{"t":2021.57,"r":52.8},{"t":2021.596,"r":58},{"t":2021.636,"r":59.6},{"t":2021.658,"r":61.5},{"t":2021.676,"r":54.7},{"t":2021.69,"r":55.7},{"t":2021.711,"r":50.8},{"t":2021.77,"r":66.2},{"t":2021.81,"r":65.8},{"t":2021.845,"r":68.9},{"t":2021.871,"r":59.2},{"t":2021.89,"r":56.6},{"t":2021.909,"r":48.9},{"t":2021.93,"r":49.3},{"t":2021.944,"r":45.9},{"t":2021.962,"r":50.2},{"t":2021.997,"r":42.6},{"t":2022.016,"r":43.4},{"t":2022.042,"r":37.2},{"t":2022.077,"r":45},{"t":2022.096,"r":44.6},{"t":2022.123,"r":40.7},{"t":2022.165,"r":41.1},{"t":2022.211,"r":52.9},{"t":2022.229,"r":52.8},{"t":2022.264,"r":45},{"t":2022.299,"r":43},{"t":2022.331,"r":36.2},{"t":2022.358,"r":34.3},{"t":2022.406,"r":33.9},{"t":2022.443,"r":26.1},{"t":2022.478,"r":25.5},{"t":2022.518,"r":30.4},{"t":2022.545,"r":33.9},{"t":2022.571,"r":34.7},{"t":2022.593,"r":37.2},{"t":2022.633,"r":31.4},{"t":2022.667,"r":36.8},{"t":2022.699,"r":32.7},{"t":2022.737,"r":33.9},{"t":2022.772,"r":34.9},{"t":2022.798,"r":39.1},{"t":2022.825,"r":40.1},{"t":2022.844,"r":31.4},{"t":2022.87,"r":31.4},{"t":2022.905,"r":34.3},{"t":2022.945,"r":33.9},{"t":2022.98,"r":33.7},{"t":2022.993,"r":37.2},{"t":2023.02,"r":51.8},{"t":2023.052,"r":58.6},{"t":2023.073,"r":56.6},{"t":2023.1,"r":52.2},{"t":2023.111,"r":58.6},{"t":2023.137,"r":55.3},{"t":2023.167,"r":51.8},{"t":2023.191,"r":65},{"t":2023.239,"r":65.4},{"t":2023.26,"r":69.3},{"t":2023.287,"r":59.6},{"t":2023.306,"r":62.9},{"t":2023.332,"r":55.3},{"t":2023.354,"r":55.3},{"t":2023.373,"r":58.2},{"t":2023.421,"r":51.4},{"t":2023.439,"r":52.8},{"t":2023.461,"r":63.1},{"t":2023.493,"r":61.5},{"t":2023.533,"r":60.9},{"t":2023.559,"r":57.2},{"t":2023.586,"r":56.6},{"t":2023.608,"r":45.9},{"t":2023.64,"r":45.6},{"t":2023.674,"r":44.8},{"t":2023.701,"r":48.3},{"t":2023.72,"r":54.1},{"t":2023.741,"r":53.7},{"t":2023.768,"r":50.2},{"t":2023.805,"r":70.8},{"t":2023.84,"r":75.1},{"t":2023.885,"r":76.1},{"t":2023.92,"r":82.9},{"t":2023.939,"r":73.2},{"t":2023.96,"r":74.1},{"t":2023.973,"r":73.2},{"t":2023.995,"r":75.1},{"t":2024.014,"r":66.9},{"t":2024.046,"r":66.9},{"t":2024.072,"r":68.9},{"t":2024.094,"r":78},{"t":2024.107,"r":80.4},{"t":2024.128,"r":79},{"t":2024.16,"r":88.1},{"t":2024.187,"r":87.2},{"t":2024.208,"r":83.9},{"t":2024.227,"r":85.2},{"t":2024.254,"r":75.1},{"t":2024.275,"r":71.2},{"t":2024.294,"r":67.3},{"t":2024.321,"r":67.7},{"t":2024.339,"r":62.5},{"t":2024.366,"r":68.3},{"t":2024.393,"r":69.7},{"t":2024.414,"r":69.7},{"t":2024.433,"r":63.4},{"t":2024.452,"r":57.2},{"t":2024.473,"r":56.1},{"t":2024.495,"r":45.6},{"t":2024.527,"r":60.5},{"t":2024.548,"r":60.5},{"t":2024.567,"r":48.3},{"t":2024.607,"r":48.3},{"t":2024.625,"r":54.7},{"t":2024.641,"r":46.9},{"t":2024.66,"r":44.4},{"t":2024.7,"r":53.7},{"t":2024.727,"r":56.1},{"t":2024.754,"r":52.8},{"t":2024.78,"r":59.2},{"t":2024.815,"r":58},{"t":2024.847,"r":70.2},{"t":2024.874,"r":76.7},{"t":2024.9,"r":76.7},{"t":2024.935,"r":79},{"t":2024.954,"r":66.4},{"t":2024.973,"r":65.4},{"t":2024.986,"r":67.7},{"t":2025.013,"r":63.4},{"t":2025.034,"r":67.7},{"t":2025.053,"r":67.9},{"t":2025.077,"r":61.9},{"t":2025.114,"r":60.9},{"t":2025.136,"r":59.2},{"t":2025.168,"r":44.4},{"t":2025.202,"r":49.3},{"t":2025.237,"r":43},{"t":2025.269,"r":48.9},{"t":2025.296,"r":57.2},{"t":2025.315,"r":57.6},{"t":2025.341,"r":65},{"t":2025.368,"r":67.7},{"t":2025.395,"r":63.8},{"t":2025.429,"r":63.4},{"t":2025.453,"r":57.6},{"t":2025.475,"r":63.4},{"t":2025.501,"r":70.2},{"t":2025.541,"r":69.3},{"t":2025.568,"r":62.5},{"t":2025.587,"r":65.8},{"t":2025.614,"r":60.5},{"t":2025.643,"r":53.3},{"t":2025.688,"r":59.6},{"t":2025.707,"r":56.3},{"t":2025.737,"r":64.4},{"t":2025.763,"r":54.1},{"t":2025.782,"r":50.2},{"t":2025.801,"r":54.3},{"t":2025.822,"r":47.9},{"t":2025.857,"r":37.2},{"t":2025.875,"r":35.8},{"t":2025.894,"r":38.8},{"t":2025.929,"r":37.8},{"t":2025.964,"r":37.8},{"t":2025.988,"r":41.7},{"t":2026.017,"r":42.1},{"t":2026.028,"r":44},{"t":2026.062,"r":32.3},{"t":2026.084,"r":28.8},{"t":2026.116,"r":27.9},{"t":2026.156,"r":26.5},{"t":2026.175,"r":36.2},{"t":2026.204,"r":32.7},{"t":2026.217,"r":31.9},{"t":2026.255,"r":38.2},{"t":2026.271,"r":41.1},{"t":2026.295,"r":47.5},{"t":2026.329,"r":51.2},{"t":2026.351,"r":46.3},{"t":2026.383,"r":44.4},{"t":2026.41,"r":34.3},{"t":2026.428,"r":37.2},{"t":2026.463,"r":32.9},{"t":2026.49,"r":38.2},{"t":2026.516,"r":39.2},{"t":2026.543,"r":40.7},{"t":2026.562,"r":39.2},{"t":2026.583,"r":41.1},{"t":2026.602,"r":38.6},{"t":2026.618,"r":56.6},{"t":2026.637,"r":58.2}
],
"channelRed":[{"t":2017.482,"p":16006},{"t":2027.459,"p":608000}],
"channelGreen":[{"t":2017.482,"p":2121},{"t":2027.464,"p":80300}],
"channelMid":[{"t":2017.482,"p":5812},{"t":2027.464,"p":222000}],
"path":[
{"t":2026.657,"p":81900},{"t":2026.684,"p":72900},{"t":2026.735,"p":91400},{"t":2026.791,"p":68700},{"t":2026.869,"p":106800},{"t":2026.909,"p":90300},{"t":2026.965,"p":116400},{"t":2026.986,"p":95800},{"t":2027.061,"p":125900},{"t":2027.101,"p":92100},{"t":2027.232,"p":154800},{"t":2027.272,"p":132000},{"t":2027.384,"p":205200},{"t":2027.427,"p":163600},{"t":2027.482,"p":193500},{"t":2027.52,"p":150200},{"t":2027.672,"p":254500}
],
"pathHead":[{"t":2027.584,"p":242700},{"t":2027.672,"p":254500},{"t":2027.705,"p":217500}],
"arrows":[
{"a":1,"i":0,"t":2018.816,"p":1327},{"a":1,"i":1,"t":2018.895,"p":2293},{"a":1,"i":2,"t":2018.849,"p":2420},{"a":1,"i":3,"t":2018.974,"p":2845},{"a":1,"i":4,"t":2019.008,"p":2241},{"a":1,"i":5,"t":2018.962,"p":2293},{"a":1,"i":6,"t":2018.816,"p":1327},
{"a":2,"i":0,"t":2022.726,"p":5902},{"a":2,"i":1,"t":2022.805,"p":10205},{"a":2,"i":2,"t":2022.759,"p":10760},{"a":2,"i":3,"t":2022.884,"p":12648},{"a":2,"i":4,"t":2022.918,"p":9963},{"a":2,"i":5,"t":2022.873,"p":10205},{"a":2,"i":6,"t":2022.726,"p":5902},
{"a":3,"i":0,"t":2026.364,"p":22390},{"a":3,"i":1,"t":2026.443,"p":38712},{"a":3,"i":2,"t":2026.397,"p":40830},{"a":3,"i":3,"t":2026.522,"p":47982},{"a":3,"i":4,"t":2026.556,"p":37794},{"a":3,"i":5,"t":2026.511,"p":38712},{"a":3,"i":6,"t":2026.364,"p":22390}
],
"rsiBands":[
{"a":1,"i":0,"t":2017.801,"r":93},{"a":1,"i":1,"t":2019.123,"r":43},{"a":1,"i":2,"t":2018.974,"r":13.7},{"a":1,"i":3,"t":2017.657,"r":63.4},{"a":1,"i":4,"t":2017.801,"r":93},
{"a":2,"i":0,"t":2020.809,"r":98.4},{"a":2,"i":1,"t":2022.987,"r":44},{"a":2,"i":2,"t":2022.852,"r":1.8},{"a":2,"i":3,"t":2020.683,"r":56.6},{"a":2,"i":4,"t":2020.809,"r":98.4},
{"a":3,"i":0,"t":2023.832,"r":91.6},{"a":3,"i":1,"t":2026.917,"r":56},{"a":3,"i":2,"t":2026.858,"r":16.8},{"a":3,"i":3,"t":2023.773,"r":52.8},{"a":3,"i":4,"t":2023.832,"r":91.6}
],
"levels":[{"r":70,"t":2016.261,"t2":2027.925,"col":"#6f6f6f"},{"r":50,"t":2016.261,"t2":2027.925,"col":"#a8a8a8"},{"r":30,"t":2016.261,"t2":2027.925,"col":"#6f6f6f"}],
"logo":[{"t":2016.963,"p":294000}]
},
"vconcat":[
{"width":1815,"height":625,
"encoding":{
"x":{"field":"t","type":"quantitative","scale":{"domain":[2016.261,2028.52],"nice":false,"zero":false,"padding":0},"axis":null},
"y":{"field":"p","type":"quantitative","scale":{"type":"log","domain":[753,1145000],"nice":false},
"axis":{"orient":"right","offset":-79,"title":null,"grid":false,"ticks":false,"domain":false,"labelPadding":0,"labelAlign":"left","labelFont":"Roboto","labelFontSize":12,"labelColor":"#2a2e39","labelOverlap":false,"labelBound":false,"labelFlush":false,
"values":[700000,460000,310000,210000,130000,90000,60000,40000,28000,18000,12000,8000,5600,3850,2650,1850,1250,875],"labelExpr":"format(datum.value,',.2f')"}}
},
"layer":[
{"data":{"name":"channelRed"},"mark":{"type":"line","stroke":"#f6a9b0","strokeWidth":17,"strokeCap":"butt"},"encoding":{}},
{"data":{"name":"channelRed"},"mark":{"type":"line","stroke":"#6e2a30","strokeWidth":1},"encoding":{}},
{"data":{"name":"channelGreen"},"mark":{"type":"line","stroke":"#93e993","strokeWidth":17,"strokeCap":"butt"},"encoding":{}},
{"data":{"name":"channelGreen"},"mark":{"type":"line","stroke":"#1c4a22","strokeWidth":1},"encoding":{}},
{"data":{"name":"channelMid"},"mark":{"type":"line","stroke":"#444444","strokeWidth":1,"strokeDash":[7,6]},"encoding":{}},
{"data":{"name":"candles"},"mark":{"type":"rule","strokeWidth":1,"clip":true},
"encoding":{"y":{"field":"h","type":"quantitative","scale":{"type":"log","domain":[753,1145000],"nice":false}},"y2":{"field":"l"},
"color":{"condition":{"test":"datum.c>=datum.o","value":"#63666f"},"value":"#141a2c"}}},
{"data":{"name":"candles"},"mark":{"type":"bar","size":2.6,"clip":true},
"encoding":{"y":{"field":"o","type":"quantitative","scale":{"type":"log","domain":[753,1145000],"nice":false}},"y2":{"field":"c"},
"color":{"condition":{"test":"datum.c>=datum.o","value":"#63666f"},"value":"#141a2c"}}},
{"data":{"name":"path"},"mark":{"type":"line","stroke":"#0d0d0d","strokeWidth":2,"strokeJoin":"miter"},"encoding":{}},
{"data":{"name":"pathHead"},"mark":{"type":"line","stroke":"#0d0d0d","strokeWidth":2,"strokeJoin":"miter"},"encoding":{}},
{"data":{"name":"arrows"},"mark":{"type":"line","fill":"#12c312","stroke":"#12c312","strokeWidth":0.5,"filled":true},"encoding":{"detail":{"field":"a"},"order":{"field":"i"}}},
{"data":{"name":"logo"},"mark":{"type":"point","shape":"circle","filled":true,"fill":"#000000","opacity":1,"size":24524},"encoding":{}},
{"data":{"name":"logo"},"mark":{"type":"point","shape":"circle","filled":true,"fill":"#ffffff","opacity":1,"size":18387},"encoding":{}},
{"data":{"name":"logo"},"mark":{"type":"point","shape":"circle","filled":true,"fill":"#000000","opacity":1,"size":14738},"encoding":{}},
{"data":{"name":"logo"},"mark":{"type":"text","text":"₿","font":"DejaVu Sans","fontWeight":"bold","fontSize":100,"dy":3,"fill":"#ffffff","stroke":"#ffffff","strokeWidth":1,"align":"center","baseline":"middle"},"encoding":{}},
{"data":{"values":[{"t":2016.315,"p":1000000,"label":"Bitcoin / U.S. Dollar · 1W · INDEX"}]},"mark":{"type":"text","align":"left","fontSize":12,"fill":"#2a2e39"},"encoding":{"text":{"field":"label"}}},
{"data":{"values":[{"t":2027.986,"p":1100000,"label":"1,100,000.00"}]},"mark":{"type":"text","align":"left","fontSize":12,"fill":"#2a2e39","clip":true},"encoding":{"text":{"field":"label"}}},
{"data":{"values":[{"t":2027.932,"p":86900,"t2":2028.378,"p2":60600}]},"mark":{"type":"rect","fill":"#666666"},"encoding":{"x2":{"field":"t2"},"y2":{"field":"p2"}}},
{"data":{"values":[{"t":2027.986,"p":79012,"label":"79,012.54"}]},"mark":{"type":"text","align":"left","fontSize":12,"fill":"#ffffff"},"encoding":{"text":{"field":"label"}}},
{"data":{"values":[{"t":2027.986,"p":67360,"label":"4d 17h"}]},"mark":{"type":"text","align":"left","fontSize":12,"fill":"#e8e8e8"},"encoding":{"text":{"field":"label"}}}
]},
{"width":1815,"height":243,
"encoding":{
"x":{"field":"t","type":"quantitative","scale":{"domain":[2016.261,2028.52],"nice":false,"zero":false},
"axis":{"orient":"bottom","offset":-25,"title":null,"grid":false,"ticks":false,"domain":false,"labelPadding":0,"labelFont":"Roboto","labelFontSize":12,"labelColor":"#131722","labelOverlap":false,"labelFlush":false,
"values":[2016.5,2017,2017.5,2018,2018.5,2019,2019.5,2020,2020.5,2021,2021.5,2022,2022.5,2023,2023.5,2024,2024.5,2025,2025.5,2026,2026.5,2027,2027.5],
"labelExpr":"datum.value%1==0?''+datum.value:'Jul'",
"labelFontWeight":{"condition":{"test":"datum.value%1==0","value":"bold"},"value":"normal"}}},
"y":{"field":"r","type":"quantitative","scale":{"domain":[-17,124.7],"nice":false,"zero":false},
"axis":{"orient":"right","offset":-79,"title":null,"grid":false,"ticks":false,"domain":false,"labelPadding":0,"labelAlign":"left","labelFont":"Roboto","labelFontSize":12,"labelColor":"#2a2e39","labelOverlap":false,"labelFlush":false,
"values":[120,100,80,60,40,20],"labelExpr":"format(datum.value,'.2f')"}}
},
"layer":[
{"data":{"name":"rsiBands"},"mark":{"type":"line","fill":"#f7a8b2","stroke":"#f7a8b2","strokeWidth":0.5,"filled":true},"encoding":{"detail":{"field":"a"},"order":{"field":"i"}}},
{"data":{"name":"levels"},"mark":{"type":"rule","strokeWidth":1},"encoding":{"x2":{"field":"t2"},"color":{"field":"col","type":"nominal","scale":null}}},
{"data":{"name":"rsi"},"mark":{"type":"line","stroke":"#3c3c40","strokeWidth":1.8,"strokeJoin":"round"},"encoding":{}},
{"data":{"values":[{"t":2016.315,"r":116.5,"label":"RSI (14, close)"}]},"mark":{"type":"text","align":"left","fontSize":12,"fill":"#2a2e39"},"encoding":{"text":{"field":"label"}}},
{"data":{"values":[{"t":2016.88,"r":116.5,"label":"57.76"}]},"mark":{"type":"text","align":"left","fontSize":12,"fill":"#6a6d76"},"encoding":{"text":{"field":"label"}}},
{"data":{"values":[{"t":2027.932,"r":62.1,"t2":2028.22,"r2":52.4}]},"mark":{"type":"rect","fill":"#444444"},"encoding":{"x2":{"field":"t2"},"y2":{"field":"r2"}}},
{"data":{"values":[{"t":2027.986,"r":57.6,"label":"57.76"}]},"mark":{"type":"text","align":"left","fontSize":12,"fill":"#ffffff"},"encoding":{"text":{"field":"label"}}},
{"data":{"values":[{"t":2027.44,"r":-7.5}]},"mark":{"type":"point","shape":"diamond","size":700,"filled":false,"stroke":"#c4c4c4","strokeWidth":2},"encoding":{}},
{"data":{"values":[{"t":2027.58,"r":-7.5,"label":"@"}]},"mark":{"type":"text","align":"left","fontSize":26,"fill":"#bdbdbd"},"encoding":{"text":{"field":"label"}}},
{"data":{"values":[{"t":2027.757,"r":-7.5,"label":"Ade_Krypt"}]},"mark":{"type":"text","align":"left","fontSize":25,"fill":"#bdbdbd","clip":true},"encoding":{"text":{"field":"label"}}}
]}
]
}
